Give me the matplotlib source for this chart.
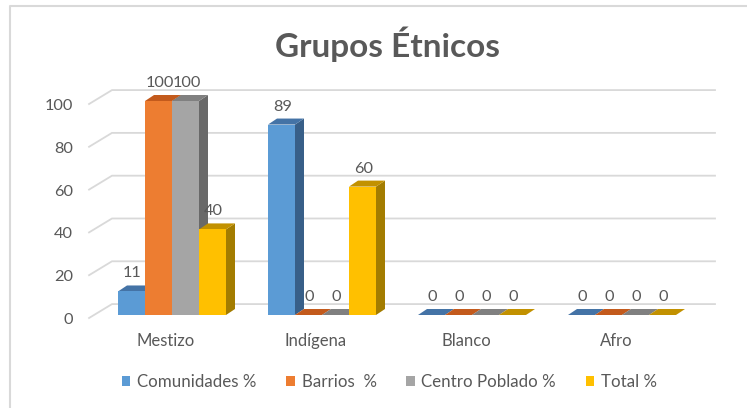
import matplotlib
matplotlib.use("Agg")
import matplotlib.pyplot as plt
from matplotlib.patches import Patch
from matplotlib.lines import Line2D

# ---- data ----
categories = ["Mestizo", "Indígena", "Blanco", "Afro"]
series_names = ["Comunidades %", "Barrios  %", "Centro Poblado %", "Total %"]
comunidades = [11, 89, 0, 0]
barrios = [100, 0, 0, 0]
centro_poblado = [100, 0, 0, 0]
total = [40, 60, 0, 0]
y_ticks = [0, 20, 40, 60, 80, 100]

series_values = [comunidades, barrios, centro_poblado, total]

# ---- styling ----
front_colors = ["#5B9BD5", "#ED7D31", "#A5A5A5", "#FFC000"]
top_colors = ["#4473A6", "#C35A1C", "#808080", "#C29100"]
side_colors = ["#385F88", "#A64B12", "#696969", "#A37C00"]
text_color = "#595959"
grid_color = "#D9D9D9"

plt.rcParams["font.family"] = ["Lato", "DejaVu Sans"]

W, H, DPI = 747, 408, 100
fig = plt.figure(figsize=(W / DPI, H / DPI), dpi=DPI)
fig.patch.set_facecolor("white")

# front plane of the 3-D plot area
ax = fig.add_axes([97 / W, (H - 315) / H, 600 / W, 214 / H])
ax.set_xlim(-0.5, 3.5)
ax.set_ylim(0, 100)
ax.axis("off")

bar_w = 0.18          # width of one column (category units)
depth_x = 0.06        # receding depth, horizontal
depth_y = 2.8         # receding depth, vertical (value units)
back_dy = 5.1         # back wall lift relative to front plane
wall_left, back_left, back_right = -0.553, -0.40, 3.62

# gridlines on side wall and back wall
for t in y_ticks:
    ax.plot([wall_left, back_left, back_right], [t - 1.4, t + back_dy, t + back_dy],
            color=grid_color, lw=1.3, clip_on=False, zorder=0,
            solid_joinstyle="miter")
    ax.text(-0.66, t - 2.3, str(t), ha="right", va="center",
            fontsize=11.8, color=text_color)

# columns with simple depth faces
offsets = [(-1.5 + k) * bar_w for k in range(4)]
for i, cat in enumerate(categories):
    for k, vals in enumerate(series_values):
        v = vals[i]
        x0 = i + offsets[k] - bar_w / 2
        x1 = x0 + bar_w
        z = 10 + i * 10 + k * 2
        ax.fill([x1, x1 + depth_x, x1 + depth_x, x1],
                [0, depth_y, v + depth_y, v],
                color=side_colors[k], lw=0, zorder=z, clip_on=False)
        ax.fill([x0, x1, x1 + depth_x, x0 + depth_x],
                [v, v, v + depth_y, v + depth_y],
                color=top_colors[k], lw=0, zorder=z, clip_on=False)
        ax.bar(i + offsets[k], v, width=bar_w, color=front_colors[k],
               lw=0, zorder=z + 1, clip_on=False)
        ax.text(i + offsets[k] + 0.007, v + 8.4, f"{v:g}", ha="center",
                va="center", fontsize=11.8, color=text_color, zorder=100)
    ax.text(i - 0.04, -12.1, cat, ha="center", va="center",
            fontsize=12, color=text_color)

fig.text(387.5 / W, 1 - 44 / H, "Grupos Étnicos", ha="center", va="center",
         fontsize=24, fontweight="bold", color=text_color)

handles = [Patch(facecolor=c, edgecolor="none") for c in front_colors]
fig.legend(handles, series_names, loc="center",
           bbox_to_anchor=(389.5 / W, 1 - 382 / H), ncol=4, frameon=False,
           handlelength=0.5, handleheight=0.5, handletextpad=0.4,
           columnspacing=1.75, fontsize=12.2, labelcolor=text_color,
           borderaxespad=0)

# chart area border (top and left edges)
fig.add_artist(Line2D([10 / W, 10 / W, 1.0], [0.0, 1 - 6 / H, 1 - 6 / H],
                      transform=fig.transFigure, color=grid_color, lw=1.5))

fig.savefig("out.png", dpi=DPI)
